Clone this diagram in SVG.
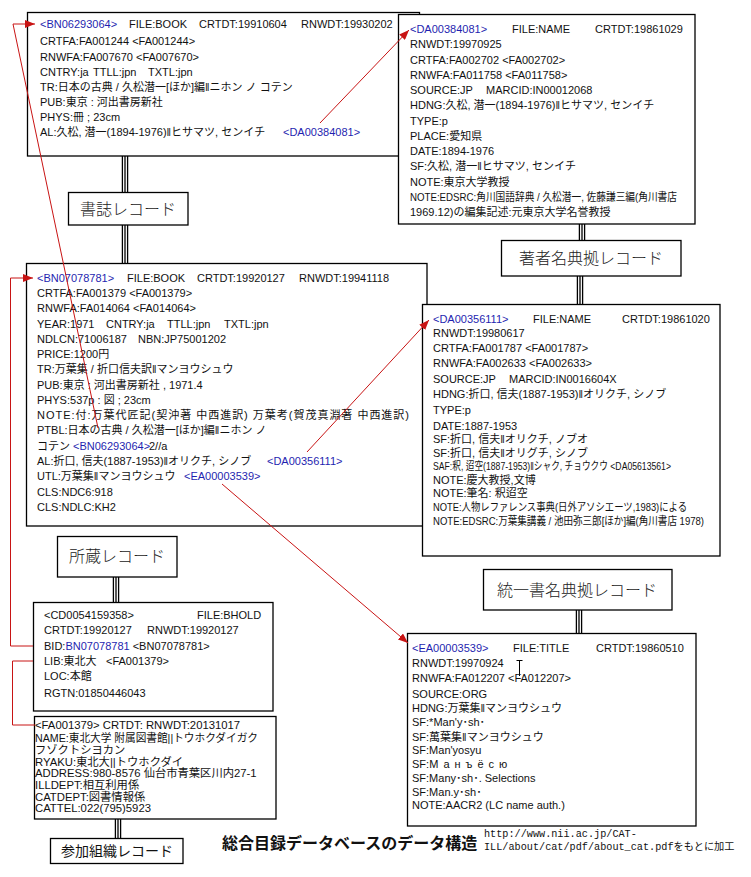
<svg xmlns="http://www.w3.org/2000/svg" width="751" height="877" viewBox="0 0 751 877">
<style>
.t{font-family:"Liberation Sans","Noto Sans CJK JP",sans-serif;font-size:11px;fill:#111}
.s{font-size:11.3px}
.b{fill:#1f1fb0}
.lbl{font-family:"Noto Sans CJK JP",sans-serif;font-size:16px;font-weight:300;fill:#222}
.lbl2{font-family:"Noto Sans CJK JP",sans-serif;font-size:14px;fill:#111}
.box{fill:#fff;stroke:#000;stroke-width:1.3}
.red{stroke:#c81414;stroke-width:1;fill:none}
.trip{stroke:#000;stroke-width:1.3;fill:none}
.ttl{font-family:"Noto Sans CJK JP",sans-serif;font-size:16px;font-weight:700;fill:#111}
.url{font-family:"Liberation Mono","Noto Sans CJK JP",monospace;font-size:10.2px;fill:#111}
</style>
<defs>
<marker id="ah" markerUnits="userSpaceOnUse" markerWidth="10" markerHeight="8" refX="10" refY="4" orient="auto">
<path d="M0,0 L10,4 L0,8 z" fill="#c81414"/>
</marker>
</defs>
<rect width="751" height="877" fill="#fff"/>

<g id="bib1">
<rect class="box" x="27.5" y="12.5" width="392" height="143.5"/>
<text class="t b" x="40" y="28">&lt;BN06293064&gt;</text>
<text class="t" x="129" y="28">FILE:BOOK</text>
<text class="t" x="199" y="28">CRTDT:19910604</text>
<text class="t" x="301" y="28">RNWDT:19930202</text>
<text class="t" x="40" y="44.7">CRTFA:FA001244 &lt;FA001244&gt;</text>
<text class="t" x="40" y="60.7">RNWFA:FA007670 &lt;FA007670&gt;</text>
<text class="t" x="40" y="75.7">CNTRY:ja</text>
<text class="t" x="93" y="75.7">TTLL:jpn</text>
<text class="t" x="148" y="75.7">TXTL:jpn</text>
<text class="t" x="40" y="91.3">TR:日本の古典 / 久松潜一[ほか]編‖ニホン ノ コテン</text>
<text class="t" x="40" y="105.7">PUB:東京 : 河出書房新社</text>
<text class="t" x="40" y="121.3">PHYS:冊 ; 23cm</text>
<text class="t" x="40" y="136.3">AL:久松, 潜一(1894-1976)‖ヒサマツ, センイチ</text>
<text class="t b" x="283" y="136.3">&lt;DA00384081&gt;</text>
</g>

<g id="name1">
<rect class="box" x="398.5" y="14.5" width="296.5" height="209.5"/>
<text class="t b" x="410" y="33">&lt;DA00384081&gt;</text>
<text class="t" x="512" y="33">FILE:NAME</text>
<text class="t" x="595" y="33">CRTDT:19861029</text>
<text class="t" x="410" y="48.3">RNWDT:19970925</text>
<text class="t" x="410" y="63.5">CRTFA:FA002702 &lt;FA002702&gt;</text>
<text class="t" x="410" y="78.8">RNWFA:FA011758 &lt;FA011758&gt;</text>
<text class="t" x="410" y="94">SOURCE:JP</text>
<text class="t" x="486" y="94">MARCID:IN00012068</text>
<text class="t" x="410" y="109.3">HDNG:久松, 潜一(1894-1976)‖ヒサマツ, センイチ</text>
<text class="t" x="410" y="124.5">TYPE:p</text>
<text class="t" x="410" y="139.8">PLACE:愛知県</text>
<text class="t" x="410" y="155">DATE:1894-1976</text>
<text class="t" x="410" y="170.3">SF:久松, 潜一‖ヒサマツ, センイチ</text>
<text class="t" x="410" y="185.5">NOTE:東京大学教授</text>
<text class="t" x="410" y="200.8" textLength="267" lengthAdjust="spacingAndGlyphs">NOTE:EDSRC:角川国語辞典 / 久松潜一, 佐藤謙三編(角川書店</text>
<text class="t" x="410" y="216">1969.12)の編集記述:元東京大学名誉教授</text>
</g>

<g id="label-bib">
<rect class="box" x="68.5" y="192.5" width="119.5" height="32.5"/>
<text class="lbl" x="128" y="214.5" text-anchor="middle">書誌レコード</text>
</g>

<g id="label-name">
<rect class="box" x="501.5" y="240.5" width="179.5" height="35.5"/>
<text class="lbl" x="591" y="264" text-anchor="middle">著者名典拠レコード</text>
</g>

<g id="bib2">
<rect class="box" x="26.5" y="263.5" width="400.5" height="262.5"/>
<text class="t b" x="37" y="281.7">&lt;BN07078781&gt;</text>
<text class="t" x="127" y="281.7">FILE:BOOK</text>
<text class="t" x="197" y="281.7">CRTDT:19920127</text>
<text class="t" x="299" y="281.7">RNWDT:19941118</text>
<text class="t" x="37" y="297">CRTFA:FA001379 &lt;FA001379&gt;</text>
<text class="t" x="37" y="312.2">RNWFA:FA014064 &lt;FA014064&gt;</text>
<text class="t" x="37" y="327.5">YEAR:1971</text>
<text class="t" x="106" y="327.5">CNTRY:ja</text>
<text class="t" x="167" y="327.5">TTLL:jpn</text>
<text class="t" x="224" y="327.5">TXTL:jpn</text>
<text class="t" x="37" y="342.8">NDLCN:71006187</text>
<text class="t" x="138" y="342.8">NBN:JP75001202</text>
<text class="t" x="37" y="358">PRICE:1200円</text>
<text class="t" x="37" y="373.3">TR:万葉集 / 折口信夫訳‖マンヨウシュウ</text>
<text class="t" x="37" y="388.6">PUB:東京 : 河出書房新社 , 1971.4</text>
<text class="t" x="37" y="403.9">PHYS:537p : 図 ; 23cm</text>
<text class="t" x="37" y="419.1" textLength="372" lengthAdjust="spacing">NOTE:付:万葉代匠記(契沖著 中西進訳) 万葉考(賀茂真淵著 中西進訳)</text>
<text class="t" x="37" y="434.4">PTBL:日本の古典 / 久松潜一[ほか]編‖ニホン ノ</text>
<text class="t" x="37" y="449.7">コテン</text>
<text class="t b" x="73" y="449.7">&lt;BN06293064&gt;</text>
<text class="t" x="149" y="449.7">2//a</text>
<text class="t" x="37" y="464.9">AL:折口, 信夫(1887-1953)‖オリクチ, シノブ</text>
<text class="t b" x="267" y="464.9">&lt;DA00356111&gt;</text>
<text class="t" x="37" y="480.2">UTL:万葉集‖マンヨウシュウ</text>
<text class="t b" x="184" y="480.2">&lt;EA00003539&gt;</text>
<text class="t" x="37" y="495.5">CLS:NDC6:918</text>
<text class="t" x="37" y="510.7">CLS:NDLC:KH2</text>
</g>

<g id="name2">
<rect class="box" x="422.5" y="304.5" width="297.5" height="251.5"/>
<text class="t b" x="433" y="323">&lt;DA00356111&gt;</text>
<text class="t" x="533" y="323">FILE:NAME</text>
<text class="t" x="622" y="323">CRTDT:19861020</text>
<text class="t" x="433" y="337.3">RNWDT:19980617</text>
<text class="t" x="433" y="352.3">CRTFA:FA001787 &lt;FA001787&gt;</text>
<text class="t" x="433" y="367.3">RNWFA:FA002633 &lt;FA002633&gt;</text>
<text class="t" x="433" y="383">SOURCE:JP</text>
<text class="t" x="509" y="383">MARCID:IN0016604X</text>
<text class="t" x="433" y="398.3">HDNG:折口, 信夫(1887-1953)‖オリクチ, シノブ</text>
<text class="t" x="433" y="414">TYPE:p</text>
<text class="t" x="433" y="430">DATE:1887-1953</text>
<text class="t" x="433" y="443">SF:折口, 信夫‖オリクチ, ノブオ</text>
<text class="t" x="433" y="456.7">SF:折口, 信夫‖オリグチ, シノブ</text>
<text class="t" x="433" y="470" textLength="238" lengthAdjust="spacingAndGlyphs">SAF:釈, 迢空(1887-1953)‖シャク, チョウクウ &lt;DA05613561&gt;</text>
<text class="t" x="433" y="484">NOTE:慶大教授,文博</text>
<text class="t" x="433" y="497.3">NOTE:筆名: 釈迢空</text>
<text class="t" x="433" y="511.3" textLength="254" lengthAdjust="spacingAndGlyphs">NOTE:人物レファレンス事典(日外アソシエーツ,1983)による</text>
<text class="t" x="433" y="524.7" textLength="271" lengthAdjust="spacingAndGlyphs">NOTE:EDSRC:万葉集講義 / 池田弥三郎[ほか]編(角川書店 1978)</text>
</g>

<g id="label-hold">
<rect class="box" x="57.5" y="536.5" width="119.5" height="40.5"/>
<text class="lbl" x="117" y="562" text-anchor="middle">所蔵レコード</text>
</g>

<g id="label-title">
<rect class="box" x="483.5" y="569.5" width="188.5" height="40.5"/>
<text class="lbl" x="577" y="595.5" text-anchor="middle">統一書名典拠レコード</text>
</g>

<g id="hold">
<rect class="box" x="33.5" y="602.5" width="239.5" height="108.5"/>
<text class="t" x="44" y="619">&lt;CD0054159358&gt;</text>
<text class="t" x="197" y="619">FILE:BHOLD</text>
<text class="t" x="44" y="634">CRTDT:19920127</text>
<text class="t" x="147" y="634">RNWDT:19920127</text>
<text class="t" x="44" y="650">BID:<tspan class="b">BN07078781</tspan> &lt;BN07078781&gt;</text>
<text class="t" x="44" y="665">LIB:東北大</text>
<text class="t" x="106" y="665">&lt;FA001379&gt;</text>
<text class="t" x="44" y="679.7">LOC:本館</text>
<text class="t" x="44" y="697.3">RGTN:01850446043</text>
</g>

<g id="title1">
<rect class="box" x="407.5" y="633.5" width="288.5" height="192.5"/>
<text class="t b" x="412" y="651.7">&lt;EA00003539&gt;</text>
<text class="t" x="513" y="651.7">FILE:TITLE</text>
<text class="t" x="596" y="651.7">CRTDT:19860510</text>
<text class="t" x="412" y="667.3">RNWDT:19970924</text>
<path d="M516.5,660.5 H522.5 M519.5,660.5 V676" stroke="#000" stroke-width="1" fill="none"/>
<text class="t" x="412" y="682.3">RNWFA:FA012207 &lt;FA012207&gt;</text>
<text class="t" x="412" y="698">SOURCE:ORG</text>
<text class="t" x="412" y="712.3">HDNG:万葉集‖マンヨウシュウ</text>
<text class="t" x="412" y="726.3">SF:*Man'y･sh･</text>
<text class="t" x="412" y="740.7">SF:萬葉集‖マンヨウシュウ</text>
<text class="t" x="412" y="754">SF:Man'yosyu</text>
<text class="t" x="412" y="768">SF:<tspan letter-spacing="5">Манъёсю</tspan></text>
<text class="t" x="412" y="782.3">SF:Many･sh･. Selections</text>
<text class="t" x="412" y="795.7">SF:Man.y･sh･</text>
<text class="t" x="412" y="809">NOTE:AACR2 (LC name auth.)</text>
</g>

<g id="org">
<rect class="box" x="34.5" y="716.5" width="241.5" height="102.5"/>
<text class="t s" x="35" y="729">&lt;FA001379&gt; CRTDT: RNWDT:20131017</text>
<text class="t s" x="35" y="742.3" textLength="223" lengthAdjust="spacingAndGlyphs">NAME:東北大学 附属図書館||トウホクダイガク</text>
<text class="t s" x="35" y="754">フゾクトシヨカン</text>
<text class="t s" x="35" y="765.7">RYAKU:東北大||トウホクダイ</text>
<text class="t s" x="35" y="777.3">ADDRESS:980-8576 仙台市青葉区川内27-1</text>
<text class="t s" x="35" y="789">ILLDEPT:相互利用係</text>
<text class="t s" x="35" y="800.7">CATDEPT:図書情報係</text>
<text class="t s" x="35" y="811.7">CATTEL:022(795)5923</text>
</g>

<g id="label-org">
<rect class="box" x="50.5" y="838.5" width="132.5" height="25"/>
<text class="lbl2" x="117" y="856" text-anchor="middle">参加組織レコード</text>
</g>

<g id="caption">
<text class="ttl" x="222" y="849">総合目録データベースのデータ構造</text>
<text class="url" x="484" y="837">http://www.nii.ac.jp/CAT-</text>
<text class="url" x="484" y="850">ILL/about/cat/pdf/about_cat.pdfをもとに加工</text>
</g>

<g id="connectors">
<path class="trip" d="M122.4,156 V192 M125,156 V192 M127.6,156 V192"/>
<path class="trip" d="M122.4,225 V263 M125,225 V263 M127.6,225 V263"/>
<path class="trip" d="M579.4,224 V240 M582,224 V240 M584.6,224 V240"/>
<path class="trip" d="M577.4,276 V304 M580,276 V304 M582.6,276 V304"/>
<path class="trip" d="M113.4,577 V602 M116,577 V602 M118.6,577 V602"/>
<path class="trip" d="M115.4,819 V838 M118,819 V838 M120.6,819 V838"/>
<path class="trip" d="M576.4,610 V633 M579,610 V633 M581.6,610 V633"/>
<path class="red" d="M320,123 L409,30" marker-end="url(#ah)"/>
<path class="red" d="M98,428 L13,24 L35,24" marker-end="url(#ah)"/>
<path class="red" d="M33,646 H10.5 V278 H33" marker-end="url(#ah)"/>
<path class="red" d="M33,661 H12.5 V725 H35"/>
<path class="red" d="M307,452 L429,320" marker-end="url(#ah)"/>
<path class="red" d="M222,484 L408,643" marker-end="url(#ah)"/>
</g>
</svg>
